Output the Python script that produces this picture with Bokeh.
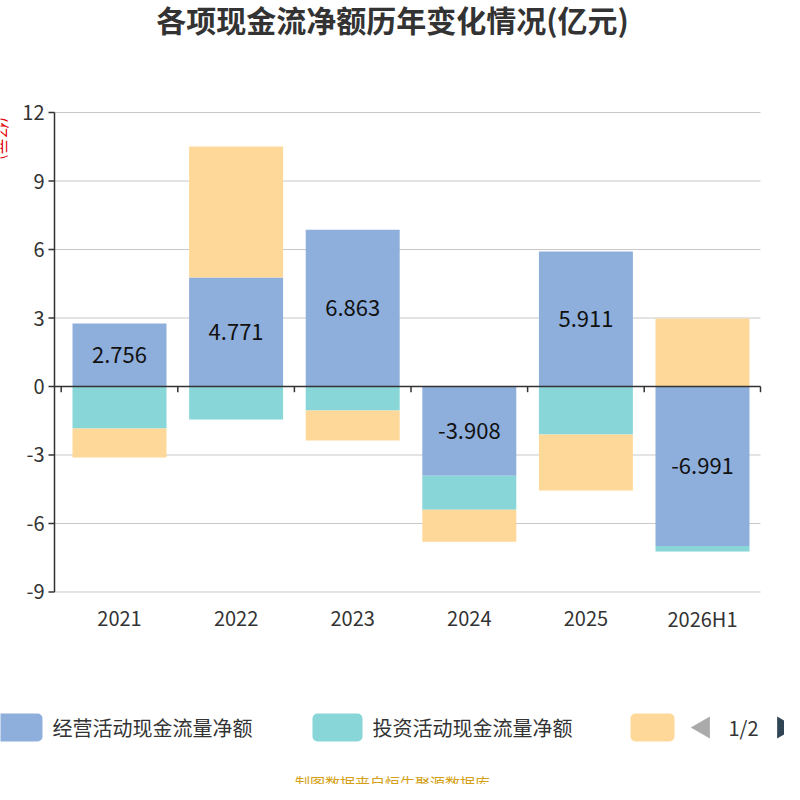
import numpy as np
from bokeh.plotting import figure
from bokeh.models import Range1d
from bokeh.core.properties import value
from bokeh.embed import file_html
from bokeh.resources import INLINE

years = ["2021", "2022", "2023", "2024", "2025", "2026H1"]
operating = [2.756, 4.771, 6.863, -3.908, 5.911, -6.991]
investing = [-1.84, -1.45, -1.05, -1.49, -2.10, -0.24]
financing = [-1.27, 5.74, -1.32, -1.40, -2.46, 2.98]
series_names = ["经营活动现金流量净额", "投资活动现金流量净额", "筹资活动现金流量净额"]
colors = ["#8eaedb", "#88d6d8", "#fed898"]
yticks = [-9, -6, -3, 0, 3, 6, 9, 12]

FONT = value("Noto Sans CJK SC")
def px_x(px): return (px - 127) / 116.6
def px_y(py): return (394 - py) / 22.83

p = figure(width=784, height=784, output_backend="svg", toolbar_location=None,
           x_range=Range1d(px_x(8), px_x(792)), y_range=Range1d(px_y(792), px_y(8)),
           min_border=0)
p.outline_line_color = None
p.axis.visible = False
p.grid.visible = False

xl, xr = px_x(62), px_x(768)
yt = np.array(yticks, dtype=float)
p.segment(x0=[xl] * len(yt), x1=[xr] * len(yt), y0=yt, y1=yt, line_color="#c8c8c8", line_width=1)

xs = np.arange(len(years))
pos = np.zeros(len(years)); neg = np.zeros(len(years))
for vals, c in zip([operating, investing, financing], colors):
    v = np.array(vals)
    bottom = np.where(v >= 0, pos, neg)
    top = bottom + v
    p.vbar(x=xs, bottom=bottom, top=top, width=0.806, fill_color=c, line_color=None)
    pos = np.where(v >= 0, top, pos); neg = np.where(v < 0, top, neg)

p.text(x=xs, y=np.array(operating) / 2, text=[f"{v:.3f}" for v in operating],
       text_align="center", text_baseline="middle", text_font_size="22px",
       text_color="#111", text_font=FONT)

# axes
p.segment(x0=[xl], x1=[xr], y0=[0], y1=[0], line_color="#333", line_width=1.5)
tx = list(xs - 0.5) + [xr]
p.segment(x0=tx, x1=tx, y0=[0] * len(tx), y1=[-0.25] * len(tx), line_color="#333", line_width=1.5)
p.segment(x0=[xl], x1=[xl], y0=[-9], y1=[12], line_color="#333", line_width=1.5)
p.segment(x0=[xl] * len(yt), x1=[px_x(56)] * len(yt), y0=yt, y1=yt, line_color="#333", line_width=1.5)
p.text(x=[px_x(52)] * len(yt), y=yt, text=[str(t) for t in yticks], text_align="right",
       text_baseline="middle", text_font_size="20px", text_color="#333", text_font=FONT)
p.text(x=xs, y=[px_y(626)] * len(xs), text=years, text_align="center", text_baseline="middle",
       text_font_size="20px", text_color="#333", text_font=FONT)

p.text(x=[px_x(400)], y=[px_y(26)], text=["各项现金流净额历年变化情况(亿元)"], text_align="center",
       text_baseline="middle", text_font_size="30px", text_font_style="bold",
       text_color="#333", text_font=FONT)
p.text(x=[px_x(9)], y=[px_y(146)], text=["(亿元)"], angle=-np.pi / 2, text_align="center",
       text_baseline="middle", text_font_size="16px", text_color="#e00000", text_font=FONT)

# legend
lx0 = [px_x(1), px_x(320), px_x(638)]
lx1 = [px_x(50), px_x(370), px_x(682)]
p.quad(left=lx0, right=lx1, top=[px_y(721)] * 3, bottom=[px_y(749)] * 3,
       fill_color=colors, line_color=None, border_radius=5)
p.text(x=[px_x(60), px_x(380)], y=[px_y(735)] * 2, text=series_names[:2], text_baseline="middle",
       text_font_size="20px", text_color="#333", text_font=FONT)
p.scatter(x=[px_x(711)], y=[px_y(735)], marker="triangle", angle=np.pi / 2, size=22,
          fill_color="#aaaaaa", line_color=None)
p.scatter(x=[px_x(791)], y=[px_y(735)], marker="triangle", angle=-np.pi / 2, size=22,
          fill_color="#2f4554", line_color=None)
p.text(x=[px_x(751)], y=[px_y(735)], text=["1/2"], text_align="center", text_baseline="middle",
       text_font_size="20px", text_color="#333", text_font=FONT)
p.text(x=[px_x(400)], y=[px_y(790)], text=["制图数据来自恒生聚源数据库"], text_align="center",
       text_baseline="middle", text_font_size="15px", text_color="#d4a017", text_font=FONT)

open("out.html", "w").write(file_html(p, INLINE))
